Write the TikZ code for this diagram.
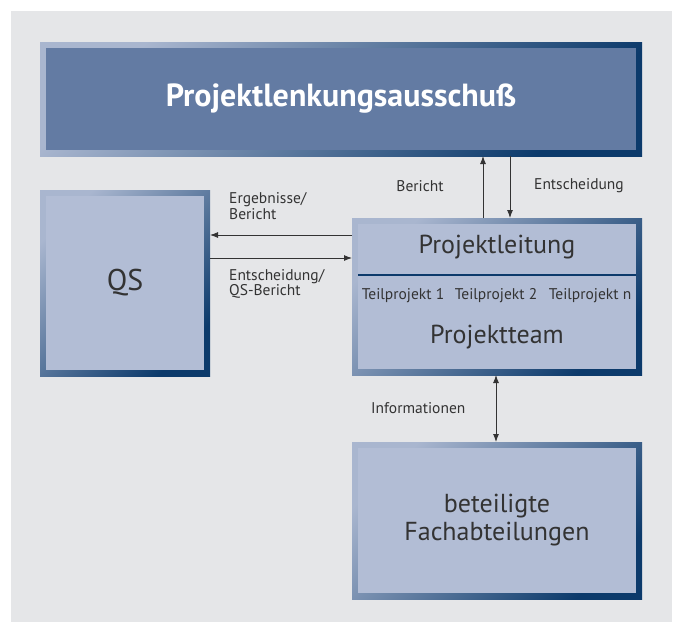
\documentclass[tikz,border=0pt]{standalone}
\usepackage{fontspec}
\setmainfont{PT Sans}
\usetikzlibrary{arrows.meta}

\definecolor{bggray}{HTML}{E5E6E8}
\definecolor{darkpanel}{HTML}{637BA3}
\definecolor{lightpanel}{HTML}{B2BDD5}
\definecolor{rimlight}{HTML}{A9B6CF}
\definecolor{rimdark}{HTML}{0C3A6B}
\definecolor{inkgray}{HTML}{333333}

\tikzset{
  panel/.style={shade, top color=rimlight, bottom color=rimdark, shading angle=45,
    inner sep=0pt, outer sep=0pt, align=center, text=inkgray,
    path picture={\fill[#1] ([shift={(6pt,-6pt)}]path picture bounding box.north west)
      rectangle ([shift={(-6pt,6pt)}]path picture bounding box.south east);}},
  flow/.style={draw=inkgray, line width=0.9pt, -{Latex[length=8pt,width=6pt]}},
  small/.style={font=\fontsize{15.5}{14}\selectfont, text=inkgray, inner sep=0pt},
  big/.style={font=\fontsize{26}{28}\selectfont}
}

\begin{document}
\begin{tikzpicture}[x=1pt,y=-1pt]
	\useasboundingbox (0,0) rectangle (674,622);
	\fill[bggray] (11,11) rectangle (672,622);

	% Kästen
	\node[panel=darkpanel, minimum width=602pt, minimum height=114pt, text=white,
	  font=\fontsize{32}{36}\selectfont\bfseries] (lenkung) at (341,99) {Projektlenkungsausschuß};
	\node[panel=lightpanel, minimum width=170pt, minimum height=186pt, font=\fontsize{30}{34}\selectfont] (qs) at (125,283) {QS};
	\node[panel=lightpanel, minimum width=290pt, minimum height=157pt] (leitung) at (497,296.5) {};
	\node[panel=lightpanel, minimum width=290pt, minimum height=157pt, big] (fach) at (497,520.5) {beteiligte\\Fachabteilungen};

	% Inhalt Projektleitung
	\node[big, text=inkgray] (pl) at (497,247) {Projektleitung};
	\draw[rimdark, line width=1.6pt] ([xshift=6pt]leitung.west |- 0,275) -- ([xshift=-6pt]leitung.east |- 0,275);
	\node[small] (tp1) at (403,296) {Teilprojekt 1};
	\node[small] (tp2) at (496,296) {Teilprojekt 2};
	\node[small] (tpn) at (590,296) {Teilprojekt n};
	\node[big, text=inkgray] (team) at (497,337) {Projektteam};

	% Pfeile
	\draw[flow] (leitung.north -| 483,0) -- (lenkung.south -| 483,0);
	\draw[flow] (lenkung.south -| 510,0) -- (leitung.north -| 510,0);
	\draw[flow] (leitung.west |- 0,235) -- (qs.east |- 0,235);
	\draw[flow] (qs.east |- 0,258) -- (leitung.west |- 0,258);
	\draw[flow, {Latex[length=8pt,width=6pt]}-{Latex[length=8pt,width=6pt]}] (leitung.south -| 496,0) -- (fach.north -| 496,0);

	% Beschriftungen
	\node[small] (bericht) at (420,186) {Bericht};
	\node[small, anchor=west] (entsch) at (534,186) {Entscheidung};
	\node[small, anchor=west, align=left] (erg) at (229,206) {Ergebnisse/\\Bericht};
	\node[small, anchor=west, align=left] (qsb) at (229,284) {Entscheidung/\\QS-Bericht};
	\node[small, anchor=west] (info) at (371,408) {Informationen};
\end{tikzpicture}
\end{document}
